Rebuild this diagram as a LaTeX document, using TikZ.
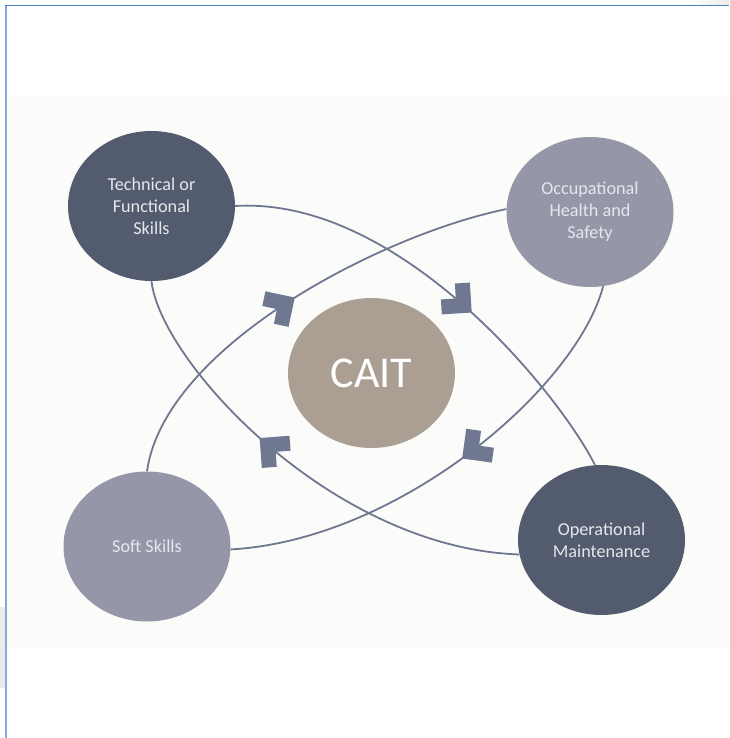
\documentclass[tikz,border=0pt]{standalone}
\usepackage{fontspec}
\setmainfont{Carlito}
\usetikzlibrary{shapes.geometric}
\definecolor{darkc}{HTML}{535B6F}
\definecolor{lightc}{HTML}{9597A8}
\definecolor{caitc}{HTML}{AB9F93}
\definecolor{linec}{HTML}{707790}
\definecolor{bgc}{HTML}{FBFBF9}
\definecolor{framec}{HTML}{4A80BD}
\definecolor{framel}{HTML}{86AAD6}
\definecolor{txtc}{HTML}{E6E7EC}
\definecolor{artc}{HTML}{EBEBEB}
\begin{document}
\begin{tikzpicture}[x=1pt,y=-1pt,
  bubble/.style={ellipse, minimum width=167pt, minimum height=150pt, inner sep=0pt,
    align=center, text=txtc, font=\fontsize{18.2}{22}\selectfont},
  darkb/.style={bubble, fill=darkc},
  lightb/.style={bubble, fill=lightc},
  caitb/.style={ellipse, minimum width=167pt, minimum height=150pt, inner sep=0pt,
    fill=caitc, text=white, font=\fontsize{44}{50}\selectfont},
  arcline/.style={draw=linec, line width=1.8pt},
  chev/.pic={\fill[linec] (10.6,0) -- (-10.6,21.2) -- (-21.2,10.6) -- (-10.6,0)
        -- (-21.2,-10.6) -- (-10.6,-21.2) -- cycle;},
  mid/.style={pos=0.5, sloped, allow upside down},
]
\useasboundingbox (0,0) rectangle (729,738);
\fill[white] (0,0) rectangle (729,738);
% screenshot artefacts and frame
\fill[artc] (0,607) rectangle (5,688);
\shade[left color=white, right color=artc] (690,0) rectangle (729,4.5);
\fill[bgc] (7,97) rectangle (729,649);
\draw[framel, line width=1.5pt] (6,5.5) -- (6,738);
\draw[framec, line width=1.5pt] (5.2,5.5) -- (729,5.5);

% nodes
\node[darkb] (tech) at (151.5,206) {Technical or\\Functional\\Skills};
\node[lightb] (occ) at (590,212) {Occupational\\Health and\\Safety};
\node[caitb] (cait) at (371.5,373) {CAIT};
\node[lightb] (soft) at (147,546.5) {Soft Skills};
\node[darkb] (om) at (601.5,540) {Operational\\Maintenance};

% connectors
\draw[arcline] (tech.east) .. controls (400,196) and (560,395) .. (om.95) pic[mid]{chev};
\draw[arcline] (occ.-80) .. controls (577,387) and (400,540) .. (soft.-2) pic[mid]{chev};
\draw[arcline] (om.190) .. controls (330,548) and (160,360) .. (tech.south) pic[mid]{chev};
\draw[arcline] (soft.north) .. controls (164.5,347) and (380,235) .. (occ.178) pic[mid]{chev};
\end{tikzpicture}
\end{document}
